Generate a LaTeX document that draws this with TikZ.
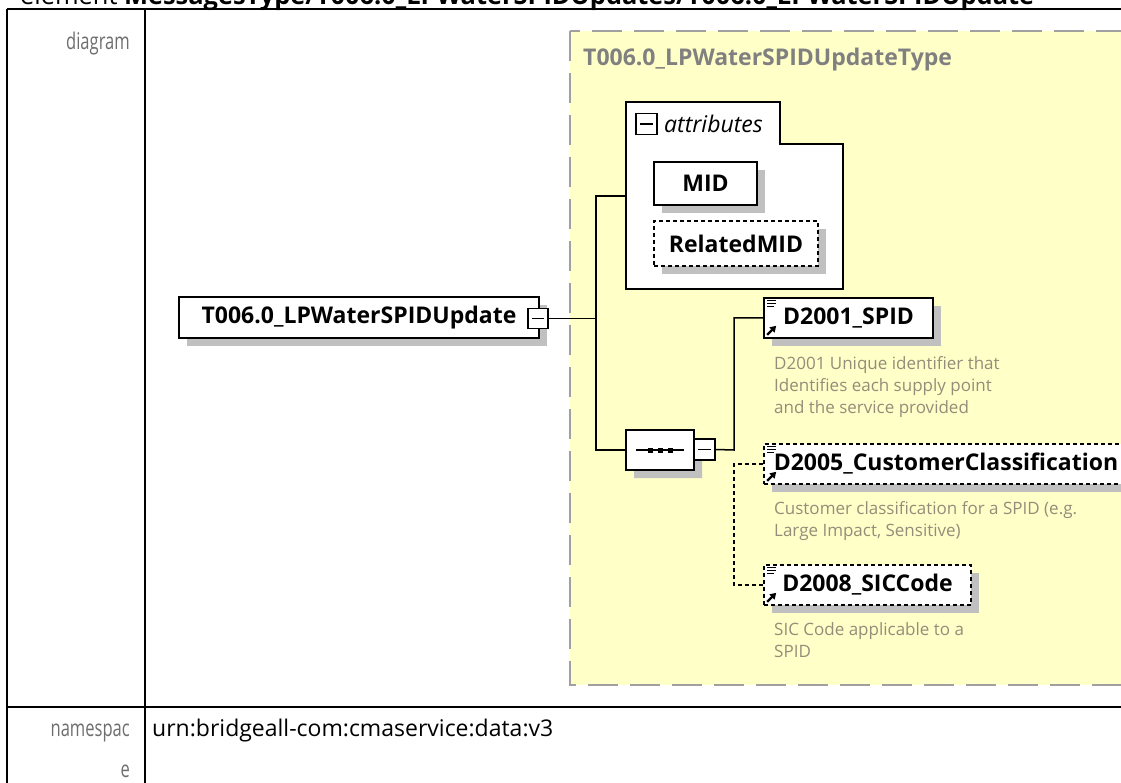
\documentclass[tikz,border=0pt]{standalone}
\usepackage{fontspec}
\setmainfont{Open Sans}
\newfontfamily\labelfont[FakeStretch=0.72]{Open Sans}
\usepackage{xcolor}
\usepackage{tikz}
\usetikzlibrary{shapes.misc, arrows.meta, positioning, calc, shadows}
\definecolor{typeYellow}{RGB}{255, 255, 200}
\definecolor{typeBorder}{RGB}{160, 160, 160}
\definecolor{shadowGray}{RGB}{192, 192, 192}
\definecolor{descGray}{RGB}{150, 140, 122}
\definecolor{labelGray}{RGB}{110, 110, 110}
\definecolor{titleGray}{RGB}{128, 128, 128}
\tikzset{
  elembox/.style={
    rectangle,
    draw=black, fill=white, line width=1.6pt,
    inner sep=0pt, minimum height=40pt,
    font=\fontsize{23}{28}\selectfont\bfseries,
    drop shadow={shadow xshift=8pt, shadow yshift=-8pt,
                 fill=shadowGray, opacity=1}
  },
  optbox/.style={
    elembox, dash pattern=on 4pt off 3pt
  },
  minusbox/.style={
    rectangle,
    draw=black, fill=white, line width=1.2pt,
    minimum size=20pt, inner sep=0pt,
    path picture={\draw[line width=1.2pt]
      ([xshift=4pt]path picture bounding box.west) --
      ([xshift=-4pt]path picture bounding box.east);}
  },
  desc/.style={
    anchor=base west, inner sep=0pt, align=left,
    text=descGray, font=\fontsize{17}{22}\selectfont
  },
  conn/.style={
    line width=1.5pt, draw=black
  },
  optconn/.style={
    conn, dash pattern=on 4pt off 3pt
  }
}
% element icon: list mark top left, reference arrow bottom left
\newcommand{\elemicon}[1]{%
  \draw[line width=1.2pt]
    ([shift={(4,3.5)}]#1.north west) -- ++(9,0)
    ([shift={(4,6.5)}]#1.north west) -- ++(9,0)
    ([shift={(4,9.5)}]#1.north west) -- ++(7,0);
  \draw[line width=2.2pt, -{Triangle[length=6pt, width=7pt]}]
    ([shift={(4,-4)}]#1.south west) -- ++(9,-9);
}

\begin{document}
\begin{tikzpicture}[
  x=1pt, y=-1pt,
  tableline/.style={line width=2pt, draw=black},
  rowlabel/.style={anchor=base east, inner sep=0pt, text=labelGray,
                   font=\labelfont\fontsize{23}{28}\selectfont},
  seqbox/.style={chamfered rectangle, chamfered rectangle xsep=8pt,
                 chamfered rectangle ysep=8pt, draw=black, fill=white,
                 line width=1.5pt, minimum width=68pt, minimum height=40pt,
                 inner sep=0pt,
                 drop shadow={shadow xshift=8pt, shadow yshift=-8pt,
                              fill=shadowGray, opacity=1}}
]
  \useasboundingbox (0,0) rectangle (1121,783);
  \clip (0,0) rectangle (1121,783);

  % Heading (cut at the top edge)
  \node[anchor=base west, inner sep=0pt, font=\fontsize{25.4}{30}\selectfont]
    (heading) at (20,4.5)
    {element \textbf{MessagesType/T006.0\_LPWaterSPIDUpdates/T006.0\_LPWaterSPIDUpdate}};

  % Table frame
  \draw[tableline] (7,9) -- (1130,9);
  \draw[tableline] (7,707) -- (1130,707);
  \draw[tableline] (7,9) -- (7,790);
  \draw[tableline] (145,9) -- (145,790);

  % Row labels
  \node[rowlabel] (lbldiag) at (130,50) {diagram};
  \node[rowlabel] (lblns) at (130,736) {namespac};
  \node[rowlabel] (lblnse) at (130,777) {e};
  \node[anchor=base west, inner sep=0pt, font=\fontsize{23}{28}\selectfont]
    (nsval) at (152,736) {urn:bridgeall-com:cmaservice:data:v3};

  % Complex type frame
  \draw[fill=typeYellow, draw=typeBorder, line width=2pt,
        dash pattern=on 30pt off 12pt] (570,31) rectangle (1160,685);
  \node[anchor=base west, inner sep=0pt, text=titleGray,
        font=\fontsize{23}{28}\selectfont\bfseries]
    (typename) at (583,66) {T006.0\_LPWaterSPIDUpdateType};

  % Attributes group
  \draw[fill=white, line width=1.5pt]
    (626,289) -- (626,102) -- (780,102) -- (780,144)
    -- (843,144) -- (843,289) -- cycle;
  \coordinate (attrin) at (626,196);
  \node[minusbox, minimum size=21pt] (attrminus) at (646.5,124) {};
  \node[anchor=base west, inner sep=0pt,
        font=\fontsize{23}{28}\selectfont\itshape]
    (attrlbl) at (664,133) {attributes};
  \node[elembox, minimum width=103pt, minimum height=43pt]
    (mid) at (705.5,183.5) {MID};
  \node[optbox, minimum width=164pt, minimum height=45pt]
    (relmid) at (736,243.5) {RelatedMID};

  % Root element
  \node[elembox, minimum width=360pt, minimum height=41pt]
    (root) at (359,317.5) {T006.0\_LPWaterSPIDUpdate};
  \node[minusbox] (rootminus) at (538,318.5) {};

  % Sequence compositor
  \node[seqbox] (seq) at (660,450) {};
  \draw[line width=1.4pt] ([xshift=-24pt]seq.center) -- ([xshift=24pt]seq.center);
  \foreach \dx in {-10,0,10}
    \fill ([xshift=\dx pt]seq.center) ++(-2.5,-2.5) rectangle ++(5,5);
  \node[minusbox, minimum size=21pt] (seqminus) at (704.5,449.5) {};

  % Child elements
  \node[elembox, minimum width=169pt] (spid) at (848.5,318) {D2001\_SPID};
  \node[optbox, minimum width=364pt] (cust) at (946,464) {D2005\_CustomerClassification};
  \node[optbox, minimum width=207pt] (sic) at (867.5,585) {D2008\_SICCode};
  \elemicon{spid}
  \elemicon{cust}
  \elemicon{sic}

  % Annotations (base = last line)
  \node[desc] (spiddesc) at (774,413)
    {D2001 Unique identifier that\\Identifies each supply point\\and the service provided};
  \node[desc] (custdesc) at (774,536)
    {Customer classification for a SPID (e.g.\\Large Impact, Sensitive)};
  \node[desc] (sicdesc) at (774,657)
    {SIC Code applicable to a\\SPID};

  % Connectors
  \coordinate (hubA) at (596,318.5);
  \draw[conn] (rootminus.east) -- (hubA);
  \draw[conn] (attrin) -| (hubA) |- (seq.west);
  \coordinate (hubB) at (734,450);
  \draw[conn] (seqminus.east) -- (hubB) |- (spid.west);
  \coordinate (hubC) at (734,520);
  \draw[optconn] (cust.west) -| (hubC) |- (sic.west);
\end{tikzpicture}
\end{document}
